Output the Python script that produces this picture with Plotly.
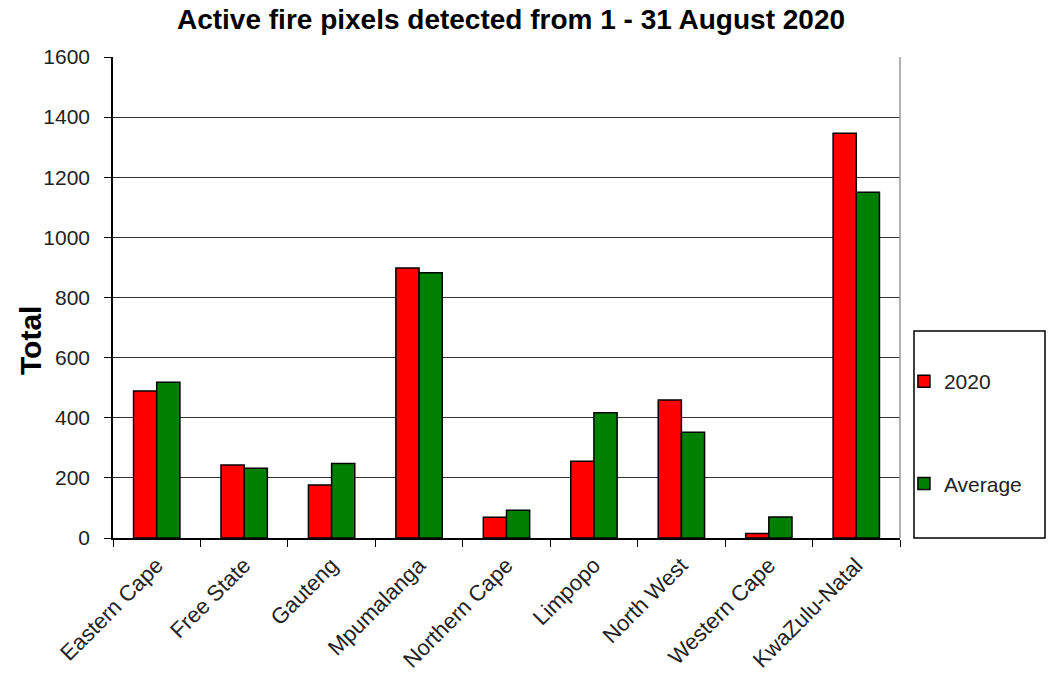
import plotly.graph_objects as go

categories = ["Eastern Cape", "Free State", "Gauteng", "Mpumalanga", "Northern Cape",
              "Limpopo", "North West", "Western Cape", "KwaZulu-Natal"]
values_2020 = [489, 243, 176, 898, 69, 255, 459, 15, 1346]
values_avg = [518, 232, 248, 882, 92, 417, 352, 70, 1150]
y_ticks = [0, 200, 400, 600, 800, 1000, 1200, 1400, 1600]

font_family = "Liberation Sans, Arial, sans-serif"
W, H = 1049, 680
L, R, T, B = 113, 149, 57, 142
PW, PH = W - L - R, H - T - B

fig = go.Figure()
fig.add_trace(go.Bar(x=categories, y=values_2020, name="2020", legendgroup="a",
                     marker=dict(color="#ff0000", line=dict(color="#000000", width=1.5))))
fig.add_trace(go.Bar(x=categories, y=values_avg, name="Average", legendgroup="b",
                     marker=dict(color="#008000", line=dict(color="#000000", width=1.5))))

fig.update_layout(
    width=W, height=H,
    margin=dict(l=L, r=R, t=T, b=B),
    paper_bgcolor="white", plot_bgcolor="white",
    font=dict(family=font_family, color="#222222"),
    title=dict(text="<b>Active fire pixels detected from 1 - 31 August 2020</b>",
               x=511 / W, xanchor="center", y=1 - 19 / H, yanchor="middle",
               font=dict(size=28, color="#000000")),
    barmode="group", bargap=0.47, bargroupgap=0.0,
    showlegend=True,
    legend=dict(x=1.005, xanchor="left", y=0.368, yanchor="top",
                bgcolor="rgba(0,0,0,0)", borderwidth=0,
                tracegroupgap=72, itemwidth=30,
                font=dict(size=21, color="#222222")),
    xaxis=dict(type="category", showline=True, linecolor="#000000", linewidth=1.5,
               ticks="outside", tickson="boundaries", ticklen=7, tickcolor="#000000",
               tickangle=-45, tickfont=dict(size=22, color="#222222"),
               ticklabelstandoff=4,
               showgrid=False, automargin=False),
    yaxis=dict(range=[0, 1600], tickvals=y_ticks, showline=True, linecolor="#000000",
               linewidth=1.5, ticks="outside", ticklen=7, tickcolor="#000000",
               showgrid=True, gridcolor="#333333", gridwidth=1,
               ticklabelstandoff=10,
               tickfont=dict(size=21, color="#222222"), automargin=False),
)

# y-axis title
fig.add_annotation(text="<b>Total</b>", xref="paper", yref="paper",
                   x=(30 - L) / PW, y=(H - B - 341) / PH, xanchor="center", yanchor="middle",
                   textangle=-90, showarrow=False, font=dict(size=30, color="#000000"))
# right border of plot area
fig.add_shape(type="line", xref="paper", yref="paper", x0=1, x1=1, y0=0, y1=1,
              line=dict(color="#999999", width=1.5))
# legend box
fig.add_shape(type="rect", xref="paper", yref="paper",
              x0=(914 - L) / PW, x1=(1045 - L) / PW,
              y0=0, y1=(H - B - 331) / PH,
              line=dict(color="#000000", width=1.5), fillcolor="rgba(0,0,0,0)")

fig.write_html("out.html")
